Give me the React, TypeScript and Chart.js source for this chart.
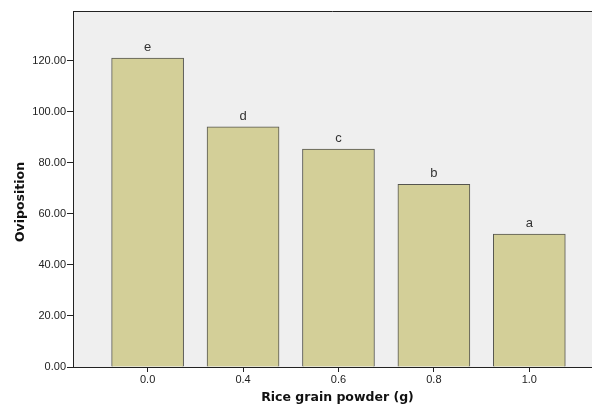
import React, { useEffect, useRef } from "react";
import { Chart, registerables } from "chart.js";

Chart.register(...registerables);

const categories = ["0.0", "0.4", "0.6", "0.8", "1.0"];
const oviposition = [121, 94, 85.3, 71.5, 52];
const groupLetters = ["e", "d", "c", "b", "a"];
const yTicks = [0, 20, 40, 60, 80, 100, 120];

const FONT = 'Arial, "Liberation Sans", sans-serif';
const TITLE_FONT = '"DejaVu Sans", Verdana, sans-serif';

const decorPlugin = {
  id: "decor",
  beforeDraw(chart: any) {
    const { ctx, chartArea } = chart;
    ctx.save();
    ctx.fillStyle = "#efefef";
    ctx.fillRect(chartArea.left, chartArea.top, chartArea.right - chartArea.left, chartArea.bottom - chartArea.top);
    ctx.restore();
  },
  afterDraw(chart: any) {
    const { ctx, chartArea } = chart;
    ctx.save();
    // top border
    ctx.strokeStyle = "#222";
    ctx.lineWidth = 1;
    ctx.beginPath();
    ctx.moveTo(chartArea.left, chartArea.top + 0.5);
    ctx.lineTo(chartArea.right, chartArea.top + 0.5);
    ctx.stroke();
    // letters
    const meta = chart.getDatasetMeta(0);
    ctx.fillStyle = "#333";
    ctx.font = `13px ${FONT}`;
    ctx.textAlign = "center";
    ctx.textBaseline = "alphabetic";
    meta.data.forEach((el: any, i: number) => {
      ctx.fillText(groupLetters[i], el.x, el.y - 7);
    });
    // axis titles
    ctx.fillStyle = "#111";
    ctx.font = `bold 12.5px ${TITLE_FONT}`;
    ctx.textBaseline = "middle";
    ctx.fillText("Rice grain powder (g)", 337.5, 398);
    ctx.translate(21, 202);
    ctx.rotate(-Math.PI / 2);
    ctx.fillText("Oviposition", 0, 0);
    ctx.restore();
  },
};

export default function App() {
  const ref = useRef<HTMLCanvasElement>(null);
  useEffect(() => {
    if (!ref.current) return;
    const chart = new Chart(ref.current, {
      type: "bar",
      data: {
        datasets: [
          {
            data: oviposition.map((v, i) => ({ x: i, y: v })),
            backgroundColor: "#d3cf98",
            borderColor: "#55554f",
            borderWidth: 1,
            barThickness: 72,
          },
        ],
      },
      options: {
        responsive: false,
        animation: false,
        layout: { padding: { top: 11, left: 0, right: 0, bottom: 0 } },
        plugins: {
          legend: { display: false },
          tooltip: { enabled: false },
        },
        scales: {
          x: {
            type: "linear",
            offset: false,
            bounds: "data",
            min: -0.782,
            max: 4.657,
            grid: {
              offset: false,
              drawOnChartArea: false,
              drawTicks: true,
              tickLength: 5,
              color: "#222",
            },
            border: { display: true, color: "#222", width: 1 },
            afterBuildTicks: (s: any) => {
              s.ticks = categories.map((_, i) => ({ value: i }));
            },
            afterFit: (s: any) => {
              s.height = 39;
            },
            ticks: {
              autoSkip: false,
              maxRotation: 0,
              padding: 1,
              color: "#222",
              font: { family: FONT, size: 11 },
              callback: (v: any) => categories[Math.round(Number(v))] ?? "",
            },
          },
          y: {
            type: "linear",
            bounds: "data",
            min: 0,
            max: 139.4,
            grid: {
              drawOnChartArea: false,
              drawTicks: true,
              tickLength: 6,
              color: "#222",
            },
            border: { display: true, color: "#222", width: 1 },
            afterBuildTicks: (s: any) => {
              s.ticks = yTicks.map((v) => ({ value: v }));
            },
            afterFit: (s: any) => {
              s.width = 73;
            },
            ticks: {
              padding: 1,
              color: "#222",
              font: { family: FONT, size: 11 },
              callback: (v: any) => Number(v).toFixed(2),
            },
          },
        },
      },
      plugins: [decorPlugin],
    });
    return () => chart.destroy();
  }, []);
  return (
    <div style={{ position: "fixed", left: 0, top: 0, width: 592, height: 406, background: "#fff" }}>
      <canvas ref={ref} width={592} height={406} style={{ display: "block" }} />
    </div>
  );
}
